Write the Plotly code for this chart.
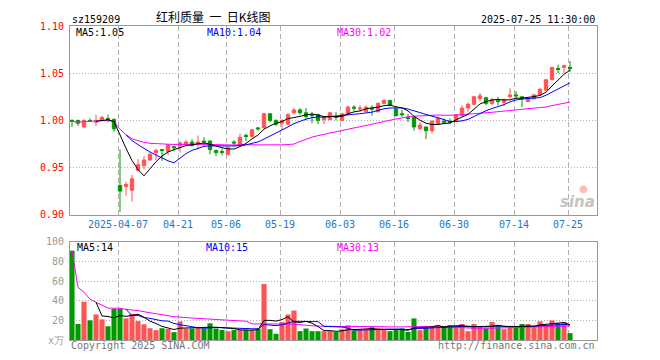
import plotly.graph_objects as go
import pandas as pd

# ---------------- data ----------------
dates = (
    ["2025-03-25", "2025-03-26", "2025-03-27", "2025-03-28", "2025-03-31"]
    + ["2025-04-%02d" % d for d in [1, 2, 3, 7, 8, 9, 10, 11, 14, 15, 16, 17, 18, 21, 22, 23, 24, 25, 28, 29, 30]]
    + ["2025-05-%02d" % d for d in [6, 7, 8, 9, 12, 13, 14, 15, 16, 19, 20, 21, 22, 23, 26, 27, 28, 29, 30]]
    + ["2025-06-%02d" % d for d in [3, 4, 5, 6, 9, 10, 11, 12, 13, 16, 17, 18, 19, 20, 23, 24, 25, 26, 27, 30]]
    + ["2025-07-%02d" % d for d in [1, 2, 3, 4, 7, 8, 9, 10, 11, 14, 15, 16, 17, 18, 21, 22, 23, 24, 25]]
)

open_ = [1.000, 1.000, 0.993, 1.000, 0.998, 1.000, 1.002, 1.001, 0.931, 0.930,
         0.926, 0.947, 0.952, 0.958, 0.966, 0.969, 0.967, 0.972, 0.973, 0.974,
         0.977, 0.975, 0.978, 0.978, 0.968, 0.967, 0.964, 0.977, 0.974, 0.984,
         0.983, 0.992, 0.992, 1.007, 1.000, 0.997, 0.996, 1.008, 1.011, 1.008,
         1.006, 1.006, 1.001, 1.001, 1.004, 1.000, 1.007, 1.014, 1.012, 1.009,
         1.013, 1.009, 1.018, 1.021, 1.012, 1.007, 1.003, 1.003, 0.991, 0.993,
         0.989, 0.996, 0.999, 0.999, 1.000, 1.005, 1.013, 1.017, 1.023, 1.024,
         1.018, 1.021, 1.019, 1.025, 1.027, 1.025, 1.020, 1.023, 1.027, 1.032,
         1.043, 1.055, 1.056, 1.056]
high = [1.001, 1.000, 1.001, 1.002, 1.006, 1.005, 1.006, 1.002, 0.969, 0.935,
        0.942, 0.959, 0.962, 0.967, 0.970, 0.969, 0.975, 0.973, 0.978, 0.979,
        0.980, 0.984, 0.982, 0.979, 0.969, 0.970, 0.972, 0.979, 0.986, 0.986,
        0.991, 0.993, 1.008, 1.007, 1.001, 1.001, 1.008, 1.013, 1.013, 1.013,
        1.009, 1.007, 1.003, 1.009, 1.009, 1.008, 1.016, 1.016, 1.016, 1.016,
        1.016, 1.019, 1.023, 1.022, 1.014, 1.011, 1.007, 1.003, 0.998, 0.993,
        1.000, 1.004, 1.002, 1.002, 1.007, 1.016, 1.019, 1.026, 1.029, 1.025,
        1.024, 1.025, 1.023, 1.034, 1.031, 1.025, 1.024, 1.028, 1.034, 1.044,
        1.057, 1.059, 1.059, 1.063]
low = [0.993, 0.994, 0.992, 0.998, 0.994, 1.000, 0.998, 0.988, 0.903, 0.920,
       0.914, 0.946, 0.948, 0.957, 0.958, 0.957, 0.963, 0.967, 0.966, 0.974,
       0.973, 0.969, 0.973, 0.964, 0.962, 0.963, 0.963, 0.973, 0.973, 0.978,
       0.982, 0.989, 0.992, 0.998, 0.994, 0.990, 0.995, 1.006, 1.006, 1.000,
       0.997, 0.996, 0.996, 1.000, 1.000, 0.999, 1.005, 1.010, 1.009, 1.009,
       1.005, 1.009, 1.017, 1.015, 1.004, 1.004, 0.998, 0.989, 0.990, 0.980,
       0.986, 0.995, 0.996, 0.996, 0.999, 1.004, 1.009, 1.016, 1.020, 1.016,
       1.016, 1.016, 1.015, 1.023, 1.023, 1.014, 1.019, 1.022, 1.026, 1.031,
       1.043, 1.050, 1.050, 1.051]
close = [0.999, 0.997, 1.000, 0.999, 1.000, 1.003, 1.001, 0.991, 0.925, 0.932,
         0.938, 0.953, 0.958, 0.964, 0.968, 0.968, 0.974, 0.971, 0.976, 0.977,
         0.973, 0.977, 0.977, 0.969, 0.966, 0.966, 0.971, 0.976, 0.982, 0.983,
         0.990, 0.991, 1.007, 1.000, 0.996, 1.000, 1.006, 1.011, 1.008, 1.004,
         1.005, 1.000, 1.003, 1.008, 1.003, 1.007, 1.014, 1.013, 1.013, 1.014,
         1.012, 1.018, 1.021, 1.016, 1.005, 1.006, 1.002, 0.993, 0.995, 0.989,
         0.999, 1.002, 0.998, 0.998, 1.006, 1.013, 1.017, 1.025, 1.026, 1.018,
         1.022, 1.020, 1.022, 1.027, 1.026, 1.023, 1.023, 1.027, 1.033, 1.043,
         1.056, 1.054, 1.058, 1.055]
# volume, 万
volume = [91, 16.3, 39, 20, 26, 21, 14, 31.7, 31.7, 22,
          26.7, 19.3, 16, 12, 10, 12, 11.3, 8, 19, 11.7,
          11.7, 13, 11.7, 17, 11.7, 10.3, 9, 10.3, 10.3, 10.3,
          10.3, 11.7, 57, 11, 6.3, 18.3, 26, 30, 9, 11.7,
          9, 9, 9, 9, 8.3, 11, 15, 9.7, 10.3, 10.3,
          13, 11.7, 10.3, 9, 10.3, 11.7, 8.3, 22, 10, 12.3,
          14.3, 15, 14.3, 15, 13, 16.3, 9, 16.3, 13.7, 11.7,
          18.3, 15, 11, 12.3, 12.3, 16.3, 16.3, 13, 19, 15,
          20, 17, 18.3, 7]

tick_dates = ["2025-04-07", "2025-04-21", "2025-05-06", "2025-05-19", "2025-06-03",
              "2025-06-16", "2025-06-30", "2025-07-14", "2025-07-25"]
tick_labels = ["2025-04-07", "04-21", "05-06", "05-19", "06-03", "06-16", "06-30", "07-14", "07-25"]
price_ticks = [0.90, 0.95, 1.00, 1.05, 1.10]
vol_ticks = [0, 20, 40, 60, 80, 100]
vol_tick_labels = ["x万", "20", "40", "60", "80", "100"]

code = "sz159209"
title = "红利质量&nbsp; 一 &nbsp;日K线图"
stamp = "2025-07-25 11:30:00"
price_ma_text = ["MA5:1.05", "MA10:1.04", "MA30:1.02"]
vol_ma_text = ["MA5:14", "MA10:15", "MA30:13"]

# ---------------- derived ----------------
idx = list(range(len(dates)))
cs = pd.Series(close)
vs = pd.Series(volume)
ma5 = cs.rolling(5, min_periods=5).mean()
ma10 = cs.rolling(10, min_periods=10).mean()
ma30 = cs.rolling(30, min_periods=1).mean()
vma5 = vs.rolling(5, min_periods=5).mean()
vma10 = vs.rolling(10, min_periods=10).mean()
vma30 = vs.rolling(30, min_periods=1).mean()

RED = "#ff5454"
GREEN = "#009a00"
MONO = "DejaVu Sans Mono"
vol_colors = [RED if c > o else GREEN for o, c in zip(open_, close)]

fig = go.Figure()
fig.add_trace(go.Candlestick(
    x=idx, open=open_, high=high, low=low, close=close,
    increasing=dict(line=dict(color=RED, width=1), fillcolor=RED),
    decreasing=dict(line=dict(color=GREEN, width=1), fillcolor=GREEN),
    whiskerwidth=0, hoverinfo="skip", xaxis="x", yaxis="y", showlegend=False))
for s, col in [(ma30, "#ff00ff"), (ma10, "#0000ff"), (ma5, "#000000")]:
    fig.add_trace(go.Scatter(x=idx, y=s, mode="lines", line=dict(color=col, width=1),
                             hoverinfo="skip", showlegend=False, xaxis="x", yaxis="y"))

fig.add_trace(go.Bar(x=idx, y=volume, marker=dict(color=vol_colors, line=dict(width=0)),
                     hoverinfo="skip", showlegend=False, xaxis="x2", yaxis="y2"))
for s, col in [(vma30, "#ff00ff"), (vma10, "#0000ff"), (vma5, "#000000")]:
    fig.add_trace(go.Scatter(x=idx, y=s, mode="lines", line=dict(color=col, width=1),
                             hoverinfo="skip", showlegend=False, xaxis="x2", yaxis="y2"))

tickpos = [dates.index(d) - 0.33 for d in tick_dates]
xr = [-0.333, 87.5]
common_x = dict(range=xr, showgrid=True, gridcolor="#b0b0b0", griddash="5px,3px", gridwidth=1,
                showline=True, mirror=True, linecolor="#999999", linewidth=1, zeroline=False,
                ticks="", tickvals=tickpos, fixedrange=True)
fig.update_layout(
    width=660, height=360,
    # page body has an 8px margin, so the plot area is shifted to compensate
    margin=dict(l=62, r=71, t=12, b=28),
    paper_bgcolor="white", plot_bgcolor="white",
    boxgap=0.2, bargap=0.15,
    xaxis=dict(**common_x, anchor="y", domain=[0, 1], ticktext=tick_labels,
               tickfont=dict(family=MONO, size=10, color="#2277cc"), rangeslider=dict(visible=False)),
    xaxis2=dict(**common_x, anchor="y2", domain=[0, 1], showticklabels=False),
    yaxis=dict(domain=[0.399, 1.0], range=[0.90, 1.10], tickvals=price_ticks,
               ticktext=["%.2f" % v for v in price_ticks],
               tickfont=dict(family=MONO, size=10, color="#ff0000"),
               showgrid=True, gridcolor="#b0b0b0", griddash="1px,2px", zeroline=False,
               showline=True, mirror=True, linecolor="#999999", ticks="", ticklabelstandoff=3,
               fixedrange=True),
    yaxis2=dict(domain=[0, 0.3125], range=[0, 100], tickvals=vol_ticks, ticktext=vol_tick_labels,
                tickfont=dict(family=MONO, size=10, color="#999999"),
                showgrid=True, gridcolor="#b0b0b0", griddash="1px,2px", zeroline=False,
                showline=True, mirror=True, linecolor="#999999", ticks="", ticklabelstandoff=3,
                fixedrange=True),
)

def px(x):
    return (x - 70) / 527.0

def py(y):
    return (340 - y) / 320.0

def note(text, x, y, anchor="left", color="#000000", size=10, family=MONO):
    fig.add_annotation(text=text, x=px(x), y=py(y), xref="paper", yref="paper",
                       xanchor=anchor, yanchor="middle", showarrow=False,
                       font=dict(family=family, size=size, color=color))

note(code, 70, 13)
note(title, 213, 10.5, anchor="center", size=12, family="Noto Sans CJK SC")
note(stamp, 597, 13, anchor="right")
for t, x, c in zip(price_ma_text, [74, 205, 335], ["#000000", "#0000ff", "#ff00ff"]):
    note(t, x, 26.5, color=c)
for t, x, c in zip(vol_ma_text, [75, 204, 335], ["#000000", "#0000ff", "#ff00ff"]):
    note(t, x, 246, color=c)
note("Copyright 2025 SINA.COM", 69, 346, color="#777777")
note("http://finance.sina.com.cn", 597, 346, anchor="right", color="#777777")
fig.add_annotation(text="<b><i>sina</i></b>", x=px(597), y=py(199), xref="paper", yref="paper",
                   xanchor="right", yanchor="middle", showarrow=False,
                   font=dict(family="DejaVu Sans", size=15, color="#c4c4c4"))
fig.add_annotation(text="●", x=px(583), y=py(186), xref="paper", yref="paper",
                   xanchor="center", yanchor="middle", showarrow=False,
                   font=dict(family="DejaVu Sans", size=10, color="#ffbcbc"))

fig.write_html("out.html")
